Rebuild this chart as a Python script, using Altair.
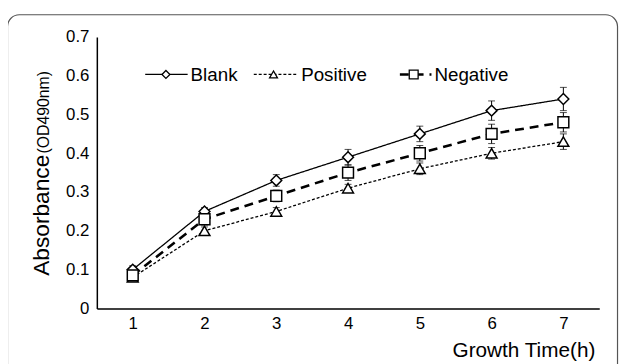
import altair as alt
import pandas as pd

# ---- data ----
time_h = [1, 2, 3, 4, 5, 6, 7]
series_names = ["Blank", "Positive", "Negative"]
blank = [0.10, 0.25, 0.33, 0.39, 0.45, 0.51, 0.54]
blank_err = [0.01, 0.01, 0.015, 0.02, 0.02, 0.025, 0.03]
positive = [0.08, 0.20, 0.25, 0.31, 0.36, 0.40, 0.43]
positive_err = [0.01, 0.01, 0.01, 0.01, 0.015, 0.015, 0.02]
negative = [0.085, 0.23, 0.29, 0.35, 0.40, 0.45, 0.48]
negative_err = [0.01, 0.015, 0.015, 0.02, 0.02, 0.025, 0.025]
y_ticks = [0, 0.1, 0.2, 0.3, 0.4, 0.5, 0.6, 0.7]

rows = []
for name, vals, errs in zip(series_names, [blank, positive, negative],
                            [blank_err, positive_err, negative_err]):
    for t, v, e in zip(time_h, vals, errs):
        rows.append({"time": str(t), "series": name, "value": v,
                     "lo": v - e, "hi": v + e})
df = pd.DataFrame(rows)

FONT = "Liberation Sans"
W, H = 509, 275

styles = {
    "Blank": dict(dash=[1, 0], width=1.3, shape="diamond"),
    "Positive": dict(dash=[3, 2], width=1.3, shape="triangle-up"),
    "Negative": dict(dash=[9, 6], width=2.6, shape="square"),
}

x_axis = alt.Axis(title=None, labelAngle=0, ticks=False,
                  domainColor="black", domainWidth=1.5,
                  labelFontSize=17, labelPadding=7,
                  labelColor="black", labelFont=FONT, grid=False)
x_enc = alt.X("time:O", scale=alt.Scale(type="point", padding=0.5), axis=x_axis)
y_scale = alt.Scale(domain=[0, 0.7], nice=False)
y_axis = alt.Axis(title=None, values=y_ticks, ticks=False,
                  domainColor="black", domainWidth=1.5,
                  labelFontSize=17, labelPadding=8,
                  labelOverlap=False, labelFlush=False,
                  labelColor="black", labelFont=FONT, grid=False,
                  labelExpr="datum.value == 0 ? '0' : format(datum.value, '.1f')")
y_enc = alt.Y("value:Q", scale=y_scale, axis=y_axis)
y_lo = alt.Y("lo:Q", scale=y_scale, axis=y_axis)
y_hi = alt.Y("hi:Q", scale=y_scale, axis=y_axis)

base = alt.Chart(df)
layers = []

# frame
one = pd.DataFrame({"k": [0]})
frame = alt.Chart(one).mark_rect(
    fillOpacity=0, stroke="#555555", strokeWidth=1.2, cornerRadius=12
).encode(x=alt.value(-90.5), x2=alt.value(527.5), y=alt.value(-22.5), y2=alt.value(420))
layers.append(frame)

for name in series_names:
    st = styles[name]
    sub = base.transform_filter(alt.datum.series == name)
    layers.append(sub.mark_line(color="black", strokeWidth=st["width"],
                                strokeDash=st["dash"]).encode(x=x_enc, y=y_enc))

for name in series_names:
    sub = base.transform_filter(alt.datum.series == name)
    layers.append(sub.mark_rule(color="black", strokeWidth=1).encode(
        x=x_enc, y=y_lo, y2="hi:Q"))
    layers.append(sub.mark_tick(color="black", size=7, thickness=1).encode(
        x=x_enc, y=y_lo))
    layers.append(sub.mark_tick(color="black", size=7, thickness=1).encode(
        x=x_enc, y=y_hi))

for name in series_names:
    st = styles[name]
    sub = base.transform_filter(alt.datum.series == name)
    layers.append(sub.mark_point(shape=st["shape"], filled=True, fill="white",
                                 stroke="black", strokeWidth=1.5, size=121,
                                 opacity=1).encode(x=x_enc, y=y_enc))

# axis titles
layers.append(alt.Chart(one).mark_text(
    angle=270, align="left", baseline="alphabetic", fontSize=23, font=FONT, color="black"
).encode(x=alt.value(-48), y=alt.value(242), text=alt.value("Absorbance")))
layers.append(alt.Chart(one).mark_text(
    angle=270, align="left", baseline="alphabetic", fontSize=16, font=FONT, color="black"
).encode(x=alt.value(-48), y=alt.value(118), text=alt.value("(OD490nm)")))
layers.append(alt.Chart(one).mark_text(
    align="right", baseline="alphabetic", fontSize=21, font=FONT, color="black"
).encode(x=alt.value(505), y=alt.value(324), text=alt.value("Growth Time(h)")))

# legend
legend_y = 38
legend_items = [
    ("Blank", 49, 92, 70, 95, 64),
    ("Positive", 159, 202, 179, 207, 64),
    ("Negative", 307, 339, 321, 342, 81),
]
for name, lx1, lx2, sx, tx, ssize in legend_items:
    st = styles[name]
    layers.append(alt.Chart(one).mark_rule(
        color="black", strokeWidth=st["width"], strokeDash=st["dash"]
    ).encode(x=alt.value(lx1), x2=alt.value(lx2), y=alt.value(legend_y)))
    layers.append(alt.Chart(one).mark_point(
        shape=st["shape"], filled=True, fill="white", stroke="black",
        strokeWidth=1.3, size=ssize, opacity=1
    ).encode(x=alt.value(sx), y=alt.value(legend_y)))
    layers.append(alt.Chart(one).mark_text(
        align="left", baseline="middle", fontSize=19, font=FONT, color="black"
    ).encode(x=alt.value(tx), y=alt.value(legend_y + 1), text=alt.value(name)))

chart = alt.layer(*layers).properties(
    width=W, height=H,
    autosize=alt.AutoSizeParams(type="none"),
    padding={"left": 90, "top": 27, "right": 20, "bottom": 54},
    background="white",
).configure_view(stroke=None)

chart.save("out.html", embed_options={"renderer": "svg", "actions": False})
